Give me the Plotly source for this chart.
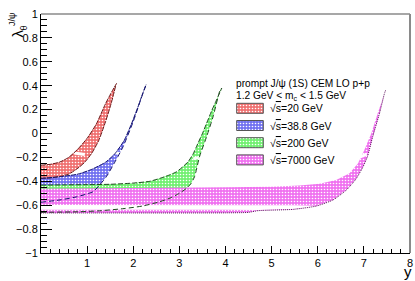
import plotly.graph_objects as go

# ---------------- data ----------------
energies = ["20", "38.8", "200", "7000"]

red_up_x = [0, 0.2, 0.4, 0.6, 0.8, 1.0, 1.2, 1.4, 1.55, 1.64]
red_up_y = [-0.265, -0.258, -0.24, -0.2, -0.13, -0.04, 0.08, 0.25, 0.36, 0.42]
red_lo_x = [0, 0.2, 0.4, 0.6, 0.8, 0.95, 1.1, 1.25, 1.4, 1.52, 1.62]
red_lo_y = [-0.375, -0.372, -0.36, -0.34, -0.29, -0.24, -0.165, -0.06, 0.1, 0.25, 0.4]

blue_up_x = [0, 0.4, 0.8, 1.1, 1.4, 1.6, 1.8, 1.95, 2.1, 2.2, 2.28]
blue_up_y = [-0.375, -0.362, -0.34, -0.30, -0.24, -0.17, -0.06, 0.07, 0.22, 0.33, 0.41]
blue_lo_x = [0, 0.41, 0.77, 1.13, 1.25, 1.42, 1.6, 1.78, 2.0, 2.15, 2.27]
blue_lo_y = [-0.575, -0.556, -0.53, -0.487, -0.44, -0.36, -0.24, -0.11, 0.1, 0.27, 0.4]

green_up_x = [0, 0.5, 1.0, 1.5, 2.0, 2.36, 2.58, 2.8, 2.94, 3.1, 3.19, 3.3, 3.37, 3.5, 3.59, 3.7, 3.77, 3.85, 3.92]
green_up_y = [-0.432, -0.43, -0.428, -0.425, -0.415, -0.40, -0.375, -0.345, -0.32, -0.27, -0.236, -0.17, -0.11, 0.0, 0.085, 0.19, 0.25, 0.32, 0.38]
green_lo_x = [0, 0.8, 1.3, 1.8, 2.2, 2.58, 2.8, 3.0, 3.15, 3.25, 3.33, 3.44, 3.59, 3.73, 3.88, 3.92]
green_lo_y = [-0.66, -0.655, -0.646, -0.628, -0.607, -0.57, -0.54, -0.5, -0.46, -0.42, -0.36, -0.19, -0.027, 0.14, 0.36, 0.38]

mag_up_x = [0, 1, 2, 3, 4, 5, 5.6, 6.04, 6.4, 6.69, 6.87, 7.01, 7.16, 7.3, 7.45, 7.48]
mag_up_y = [-0.462, -0.46, -0.458, -0.455, -0.45, -0.445, -0.435, -0.42, -0.39, -0.333, -0.25, -0.138, 0.0, 0.17, 0.35, 0.37]
mag_lo_x = [0, 2, 4, 4.5, 4.7, 5.46, 5.97, 6.33, 6.62, 6.83, 6.98, 7.08, 7.19, 7.34, 7.45, 7.48]
mag_lo_y = [-0.665, -0.665, -0.664, -0.66, -0.646, -0.635, -0.607, -0.556, -0.473, -0.38, -0.28, -0.19, -0.027, 0.17, 0.34, 0.37]
# white stripe inside the 7000 GeV band
mag_gap_x = [0, 2, 4, 4.7, 5.46, 5.97]
mag_gap_top = [-0.598, -0.598, -0.598, -0.598, -0.6, -0.605]
mag_gap_bot = [-0.638, -0.638, -0.638, -0.640, -0.633, -0.607]
# small white slivers across each rising band (x pairs, y pairs)
sliver_x = [[0.72, 0.95], [1.56, 1.72], [3.3, 3.42], [6.9, 7.06]]
sliver_y = [[-0.163, -0.176], [-0.158, -0.17], [-0.212, -0.2], [-0.2, -0.172]]

header1 = "prompt J/ψ (1S) CEM LO p+p"
header2 = "1.2 GeV < m<sub>c</sub> < 1.5 GeV"

# ---------------- styles ----------------
fill_cols = ["#f07272", "#7272f0", "#72f072", "#f072f0"]
edge_cols = ["#6a1818", "#14146e", "#1f4a1f", "#5a1a5a"]
edge_up_dash = ["5px,1px", "5px,1px", "5px,2px", None]
edge_lo_dash = ["5px,1px", "5px,3px", "5px,3px", "1px,1px"]

series = [
    (red_up_x, red_up_y, red_lo_x, red_lo_y),
    (blue_up_x, blue_up_y, blue_lo_x, blue_lo_y),
    (green_up_x, green_up_y, green_lo_x, green_lo_y),
    (mag_up_x, mag_up_y, mag_lo_x, mag_lo_y),
]

W, H = 415, 281
L, R, T, B = 41, 5, 14, 28
PW, PH = W - L - R, H - T - B


def px2paper(px, py):
    return (px - L) / PW, (H - B - py) / PH


def pattern(c):
    return dict(shape=".", bgcolor=c, fgcolor="white", size=3, solidity=0.22, fillmode="replace")


fig = go.Figure()

# fills
for i, (ux, uy, lx, ly) in enumerate(series):
    fig.add_trace(go.Scatter(
        x=list(ux) + list(lx)[::-1], y=list(uy) + list(ly)[::-1],
        fill="toself", fillcolor=fill_cols[i], fillpattern=pattern(fill_cols[i]),
        mode="lines", line=dict(width=0), hoverinfo="skip", showlegend=False))

# white stripe in the 7000 GeV band
fig.add_trace(go.Scatter(
    x=list(mag_gap_x) + list(mag_gap_x)[::-1], y=list(mag_gap_top) + list(mag_gap_bot)[::-1],
    fill="toself", fillcolor="white", mode="lines", line=dict(width=0),
    hoverinfo="skip", showlegend=False))
for sx, sy in zip(sliver_x, sliver_y):
    fig.add_trace(go.Scatter(x=sx, y=sy, mode="lines", line=dict(color="white", width=3),
                             hoverinfo="skip", showlegend=False))

# edges
for i, (ux, uy, lx, ly) in enumerate(series):
    for xx, yy, d in ((ux, uy, edge_up_dash[i]), (lx, ly, edge_lo_dash[i])):
        if d is None:
            continue
        fig.add_trace(go.Scatter(
            x=xx, y=yy, mode="lines",
            line=dict(color=edge_cols[i], width=1, dash=d, shape="spline", smoothing=0.6),
            hoverinfo="skip", showlegend=False))

# legend boxes drawn on an overlay paper-like axis
row0, drow = 108.3, 17.2
bx0, bx1 = 236.7, 263.3
for i, e in enumerate(energies):
    cy = row0 + drow * i
    x0, y0 = px2paper(bx0, cy + 5)
    x1, y1 = px2paper(bx1, cy - 5)
    fig.add_trace(go.Scatter(
        x=[x0, x1, x1, x0, x0], y=[y0, y0, y1, y1, y0], xaxis="x2", yaxis="y2",
        fill="toself", fillcolor=fill_cols[i], fillpattern=pattern(fill_cols[i]),
        mode="lines", line=dict(color="#555555", width=1), hoverinfo="skip", showlegend=False))
    tx, ty = px2paper(267.5, cy)
    fig.add_annotation(x=tx, y=ty, xref="paper", yref="paper", xanchor="left", yanchor="middle",
                       text="√<span style='text-decoration:overline'>s</span>=" + e + " GeV",
                       showarrow=False, font=dict(size=10.5, color="black"))

hx, hy = px2paper(234, 83.5)
fig.add_annotation(x=hx, y=hy, xref="paper", yref="paper", xanchor="left", yanchor="middle",
                   text=header1, showarrow=False, font=dict(size=10.2, color="black"))
hx, hy = px2paper(234, 96.5)
fig.add_annotation(x=hx, y=hy, xref="paper", yref="paper", xanchor="left", yanchor="middle",
                   text=header2, showarrow=False, font=dict(size=10.2, color="black"))

# axis titles
ax, ay = px2paper(407.5, 280.5)
fig.add_annotation(x=ax, y=ay, xref="paper", yref="paper", xanchor="center", yanchor="bottom",
                   text="y", showarrow=False, borderpad=0, font=dict(size=15, color="black"))
ax, ay = px2paper(17, 33.5)
fig.add_annotation(x=ax, y=ay, xref="paper", yref="paper", xanchor="center", yanchor="middle",
                   text="λ", textangle=-90, showarrow=False, font=dict(size=15, color="black"))
ax, ay = px2paper(23.5, 28)
fig.add_annotation(x=ax, y=ay, xref="paper", yref="paper", xanchor="center", yanchor="middle",
                   text="θ", textangle=-90, showarrow=False, font=dict(size=9, color="black"))
ax, ay = px2paper(12.5, 19.5)
fig.add_annotation(x=ax, y=ay, xref="paper", yref="paper", xanchor="center", yanchor="middle",
                   text="J/ψ", textangle=-90, showarrow=False, font=dict(size=9, color="black"))

# frame (top/right)
fig.add_shape(type="line", xref="paper", yref="paper", x0=0, x1=1, y0=1, y1=1,
              line=dict(color="#8a8a8a", width=1.5))
fig.add_shape(type="line", xref="paper", yref="paper", x0=1, x1=1, y0=0, y1=1,
              line=dict(color="#8a8a8a", width=2))

fig.update_layout(
    width=W, height=H, margin=dict(l=L, r=R, t=T, b=B, pad=0),
    paper_bgcolor="white", plot_bgcolor="white",
    font=dict(family="Liberation Sans, Arial, sans-serif", size=11, color="black"),
    xaxis=dict(range=[0, 8], tickmode="array", tickvals=[1, 2, 3, 4, 5, 6, 7, 8],
               ticks="inside", ticklen=7, tickcolor="black", showline=True, linecolor="black",
               linewidth=1, showgrid=False, zeroline=False, tickfont=dict(size=11), automargin=False,
               minor=dict(tickmode="linear", tick0=0, dtick=0.2, ticks="inside", ticklen=4,
                          tickcolor="black", showgrid=False)),
    yaxis=dict(range=[-1, 1], tickmode="linear", tick0=-1, dtick=0.2,
               ticks="inside", ticklen=11, tickcolor="black", showline=True, linecolor="black",
               linewidth=1, showgrid=False, zeroline=False, tickfont=dict(size=11), automargin=False,
               minor=dict(tickmode="linear", tick0=-1, dtick=0.05, ticks="inside", ticklen=6,
                          tickcolor="black", showgrid=False)),
    xaxis2=dict(range=[0, 1], overlaying="x", visible=False, domain=[0, 1]),
    yaxis2=dict(range=[0, 1], overlaying="y", visible=False, domain=[0, 1]),
    showlegend=False,
)

fig.write_html("out.html", config={"displayModeBar": False, "staticPlot": True},
               post_script="document.body.style.margin='0px';document.body.style.padding='0px';")
